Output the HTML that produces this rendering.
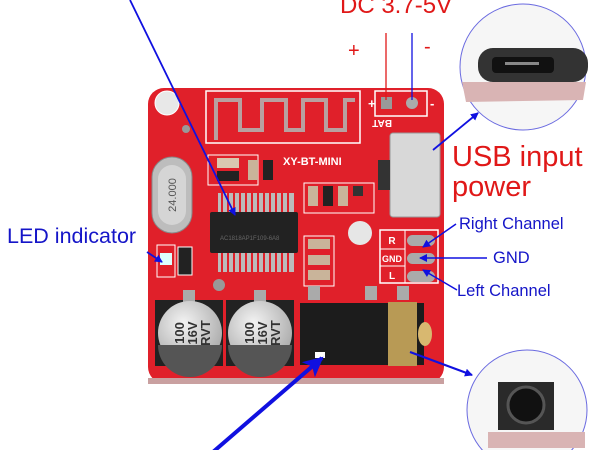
<!DOCTYPE html>
<html><head><meta charset="utf-8"><style>
html,body{margin:0;padding:0;background:#fff;width:600px;height:450px;overflow:hidden}
svg{display:block}
text{font-family:"Liberation Sans","DejaVu Sans",sans-serif}
</style></head><body>
<svg width="600" height="450" viewBox="0 0 600 450" xmlns="http://www.w3.org/2000/svg">
<defs>
<marker id="ah" markerWidth="8" markerHeight="8" refX="7" refY="4" orient="auto" markerUnits="userSpaceOnUse"><path d="M0,0 L8,4 L0,8 Z" fill="#1010e0"/></marker>
<marker id="ahb" markerWidth="20" markerHeight="20" refX="18" refY="10" orient="auto" markerUnits="userSpaceOnUse"><path d="M0,0 L20,10 L0,20 L5,10 Z" fill="#1010e0"/></marker>
<radialGradient id="capg" cx="0.4" cy="0.35" r="0.7"><stop offset="0" stop-color="#f4f4f4"/><stop offset="1" stop-color="#a8a8a8"/></radialGradient>
</defs>
<rect x="148" y="88" width="296" height="295" rx="16" fill="#e0202a"/>
<rect x="148" y="378" width="296" height="6" fill="#c9a0a0"/>
<rect x="206" y="91" width="154" height="52" fill="none" stroke="#fff" stroke-width="1.5"/>
<path d="M216,140 V100 H240 V130 H262 V100 H286 V130 H303 V100 H326 V130 H345 V100 H355" fill="none" stroke="#b8a0a0" stroke-width="4"/>
<rect x="375" y="91" width="52" height="25" fill="none" stroke="#fff" stroke-width="1.5"/>
<rect x="381" y="97" width="11" height="12" fill="#999"/>
<circle cx="412" cy="103" r="6" fill="#aaa"/>
<text x="368" y="108" fill="#fff" font-size="13" font-weight="bold">+</text>
<text x="430" y="108" fill="#fff" font-size="13" font-weight="bold">-</text>
<text x="392" y="126" fill="#fff" font-size="10" font-weight="bold" transform="rotate(180 392 123)">BAT</text>
<circle cx="167" cy="103" r="12" fill="#e8e8e8" stroke="#fff"/>
<circle cx="186" cy="129" r="4" fill="#999"/>
<circle cx="360" cy="233" r="12" fill="#e6e6e6"/>
<circle cx="219" cy="285" r="6" fill="#999"/>
<rect x="390" y="133" width="50" height="84" rx="3" fill="#d8d8d8" stroke="#999"/>
<rect x="378" y="160" width="12" height="30" fill="#333"/>
<text x="283" y="165" fill="#fff" font-size="11" font-weight="bold">XY-BT-MINI</text>
<rect x="152" y="157" width="40" height="76" rx="20" fill="#bdbdbd" stroke="#888"/>
<rect x="158" y="165" width="28" height="60" rx="14" fill="#d5d5d5"/>
<text x="176" y="195" fill="#555" font-size="11" transform="rotate(-90 176 195)" text-anchor="middle">24.000</text>
<rect x="208" y="155" width="50" height="30" fill="none" stroke="#fff"/>
<rect x="217" y="158" width="22" height="10" fill="#d9c7b0"/>
<rect x="217" y="171" width="22" height="10" fill="#222"/>
<rect x="248" y="160" width="10" height="20" fill="#c9b49a"/>
<rect x="263" y="160" width="10" height="20" fill="#222"/>
<rect x="304" y="183" width="70" height="30" fill="none" stroke="#fff"/>
<rect x="308" y="186" width="10" height="20" fill="#c9b49a"/>
<rect x="323" y="186" width="10" height="20" fill="#222"/>
<rect x="338" y="186" width="10" height="20" fill="#c9b49a"/>
<rect x="353" y="186" width="10" height="10" fill="#333"/>
<rect x="304" y="236" width="30" height="50" fill="none" stroke="#fff"/>
<rect x="308" y="239" width="22" height="10" fill="#c9b49a"/>
<rect x="308" y="255" width="22" height="10" fill="#c9b49a"/>
<rect x="308" y="270" width="22" height="10" fill="#c9b49a"/>
<rect x="218" y="193" width="76" height="20" fill="#bbb"/>
<rect x="218" y="252" width="76" height="20" fill="#bbb"/>
<g stroke="#e0202a" stroke-width="2">
<path d="M222,193V213M228,193V213M234,193V213M240,193V213M246,193V213M252,193V213M258,193V213M264,193V213M270,193V213M276,193V213M282,193V213M288,193V213"/>
<path d="M222,252V272M228,252V272M234,252V272M240,252V272M246,252V272M252,252V272M258,252V272M264,252V272M270,252V272M276,252V272M282,252V272M288,252V272"/>
</g>
<rect x="210" y="212" width="88" height="41" rx="2" fill="#222"/>
<text x="220" y="240" fill="#666" font-size="6">AC1818AP1F109-6A8</text>
<rect x="157" y="245" width="18" height="32" fill="none" stroke="#fff"/>
<rect x="160" y="253" width="12" height="12" fill="#dff"/>
<rect x="178" y="247" width="14" height="28" fill="#222" stroke="#fff"/>
<rect x="155" y="300" width="68" height="66" fill="#222"/>
<rect x="226" y="300" width="68" height="66" fill="#222"/>
<rect x="183" y="290" width="12" height="12" fill="#aaa"/>
<rect x="254" y="290" width="12" height="12" fill="#aaa"/>
<rect x="183" y="364" width="12" height="12" fill="#aaa"/>
<rect x="254" y="364" width="12" height="12" fill="#aaa"/>
<circle cx="190" cy="333" r="32" fill="url(#capg)"/>
<circle cx="260" cy="333" r="32" fill="url(#capg)"/>
<path d="M158,345 A32,32 0 0 0 222,345 Z" fill="#555"/>
<path d="M228,345 A32,32 0 0 0 292,345 Z" fill="#555"/>
<g fill="#333" font-size="13" font-weight="bold">
<text x="184" y="333" transform="rotate(-90 184 333)" text-anchor="middle" font-family="Liberation Serif,serif">100</text>
<text x="197" y="333" transform="rotate(-90 197 333)" text-anchor="middle">16V</text>
<text x="210" y="333" transform="rotate(-90 210 333)" text-anchor="middle">RVT</text>
<text x="254" y="333" transform="rotate(-90 254 333)" text-anchor="middle" font-family="Liberation Serif,serif">100</text>
<text x="267" y="333" transform="rotate(-90 267 333)" text-anchor="middle">16V</text>
<text x="280" y="333" transform="rotate(-90 280 333)" text-anchor="middle">RVT</text>
</g>
<rect x="380" y="230" width="58" height="53" fill="none" stroke="#fff" stroke-width="1.5"/>
<line x1="380" y1="249" x2="405" y2="249" stroke="#fff"/>
<line x1="380" y1="266" x2="405" y2="266" stroke="#fff"/>
<line x1="405" y1="230" x2="405" y2="283" stroke="#fff"/>
<text x="392" y="244" fill="#fff" font-size="10" font-weight="bold" text-anchor="middle">R</text>
<text x="392" y="262" fill="#fff" font-size="9" font-weight="bold" text-anchor="middle">GND</text>
<text x="392" y="279" fill="#fff" font-size="10" font-weight="bold" text-anchor="middle">L</text>
<rect x="407" y="235" width="28" height="11" rx="5.5" fill="#aaa"/>
<rect x="407" y="253" width="28" height="11" rx="5.5" fill="#aaa"/>
<rect x="407" y="271" width="28" height="11" rx="5.5" fill="#aaa"/>
<rect x="308" y="286" width="12" height="14" fill="#aaa"/>
<rect x="365" y="286" width="12" height="14" fill="#aaa"/>
<rect x="397" y="286" width="12" height="14" fill="#aaa"/>
<rect x="300" y="303" width="124" height="62" fill="#1c1c1c"/>
<rect x="388" y="302" width="29" height="64" fill="#b89a55"/>
<ellipse cx="425" cy="334" rx="7" ry="12" fill="#d8b870"/>
<rect x="315" y="352" width="10" height="6" fill="#fff"/>
<circle cx="523" cy="67" r="63" fill="#f6f6f6" stroke="#6a6ae0" stroke-width="1"/>
<path d="M462,82 L586,82 L583,100 L466,102 Z" fill="#d9b4b4"/>
<rect x="478" y="48" width="110" height="34" rx="15" fill="#333"/>
<rect x="492" y="57" width="62" height="16" rx="4" fill="#111"/>
<rect x="505" y="62" width="34" height="3" fill="#888"/>
<circle cx="527" cy="410" r="60" fill="#f6f6f6" stroke="#6a6ae0" stroke-width="1"/>
<rect x="498" y="382" width="56" height="48" fill="#2a2a2a"/>
<circle cx="526" cy="405" r="18" fill="#111" stroke="#555" stroke-width="3"/>
<path d="M488,432 H585 V448 H488 Z" fill="#d9b4b4"/>
<text x="340" y="13" fill="#e01818" font-size="24">DC 3.7-5V</text>
<text x="348" y="57" fill="#e01818" font-size="20">+</text>
<text x="424" y="53" fill="#e01818" font-size="20">-</text>
<line x1="386" y1="33" x2="386" y2="100" stroke="#e01818" stroke-width="1.3"/>
<line x1="412" y1="33" x2="412" y2="100" stroke="#1010e0" stroke-width="1.3"/>
<text x="452" y="166" fill="#e01818" font-size="29">USB input</text>
<text x="452" y="196" fill="#e01818" font-size="29">power</text>
<text x="459" y="229" fill="#1515c8" font-size="16.5">Right Channel</text>
<text x="493" y="263" fill="#1515c8" font-size="16.5">GND</text>
<text x="457" y="296" fill="#1515c8" font-size="16.5">Left Channel</text>
<text x="7" y="243" fill="#1515c8" font-size="21.5">LED indicator</text>
<line x1="130" y1="0" x2="235" y2="215" stroke="#1010e0" stroke-width="1.8" marker-end="url(#ah)"/>
<line x1="147" y1="252" x2="162" y2="262" stroke="#1010e0" stroke-width="1.8" marker-end="url(#ah)"/>
<line x1="433" y1="150" x2="478" y2="113" stroke="#1010e0" stroke-width="1.8" marker-end="url(#ah)"/>
<line x1="456" y1="224" x2="423" y2="247" stroke="#1010e0" stroke-width="1.5" marker-end="url(#ah)"/>
<line x1="487" y1="258" x2="420" y2="258" stroke="#1010e0" stroke-width="1.5" marker-end="url(#ah)"/>
<line x1="457" y1="290" x2="423" y2="270" stroke="#1010e0" stroke-width="1.5" marker-end="url(#ah)"/>
<line x1="410" y1="352" x2="472" y2="375" stroke="#1010e0" stroke-width="2.2" marker-end="url(#ah)"/>
<line x1="213" y1="452" x2="322" y2="358" stroke="#1010e0" stroke-width="4" marker-end="url(#ahb)"/>
</svg>
</body></html>
